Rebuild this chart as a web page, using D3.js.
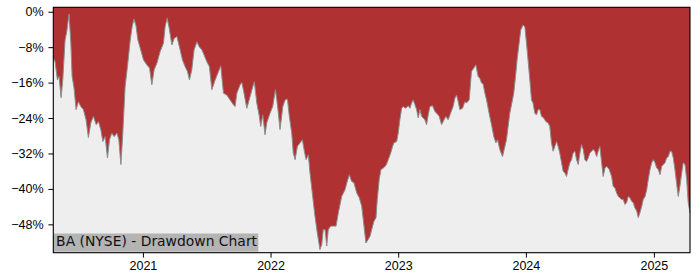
<!DOCTYPE html>
<html>
<head>
<meta charset="utf-8">
<script src="https://cdn.jsdelivr.net/npm/d3@7"></script>
<style>
  html, body { margin: 0; padding: 0; background: #ffffff; }
  svg { display: block; font-family: "DejaVu Sans", sans-serif; }
  .axis path, .axis line { stroke: #000; }
  .axis text { fill: #000; font-size: 12.5px; }
</style>
</head>
<body>
<svg id="chart" width="700" height="280"></svg>
<script>
/* BA drawdown chart: red area from the running high down to the drawdown line. */
(function () {
  "use strict";

  var title = "BA (NYSE) - Drawdown Chart";

  // Dates as decimal years.
  var dates = [
    2020.300, 2020.314, 2020.332, 2020.345, 2020.361, 2020.374, 2020.392, 2020.405, 2020.423, 2020.437,
    2020.447, 2020.462, 2020.478, 2020.496, 2020.515, 2020.535, 2020.556, 2020.574, 2020.593, 2020.613,
    2020.635, 2020.653, 2020.671, 2020.687, 2020.705, 2020.723, 2020.739, 2020.757, 2020.775, 2020.797,
    2020.812, 2020.828, 2020.843, 2020.861, 2020.879, 2020.901, 2020.916, 2020.930, 2020.945, 2020.961,
    2020.979, 2021.005, 2021.031, 2021.052, 2021.070, 2021.088, 2021.110, 2021.135, 2021.161, 2021.174,
    2021.190, 2021.206, 2021.227, 2021.245, 2021.266, 2021.286, 2021.310, 2021.331, 2021.349, 2021.365,
    2021.383, 2021.401, 2021.423, 2021.441, 2021.462, 2021.480, 2021.501, 2021.521, 2021.540, 2021.566,
    2021.592, 2021.610, 2021.631, 2021.657, 2021.683, 2021.709, 2021.722, 2021.736, 2021.761, 2021.775,
    2021.787, 2021.814, 2021.840, 2021.861, 2021.873, 2021.892, 2021.912, 2021.923, 2021.939, 2021.957,
    2021.970, 2021.996, 2022.017, 2022.038, 2022.049, 2022.061, 2022.074, 2022.096, 2022.114, 2022.132,
    2022.147, 2022.166, 2022.178, 2022.192, 2022.210, 2022.231, 2022.249, 2022.265, 2022.278, 2022.296,
    2022.309, 2022.330, 2022.348, 2022.366, 2022.387, 2022.401, 2022.413, 2022.427, 2022.440, 2022.452,
    2022.471, 2022.492, 2022.513, 2022.531, 2022.557, 2022.583, 2022.601, 2022.617, 2022.635, 2022.653,
    2022.675, 2022.695, 2022.714, 2022.732, 2022.747, 2022.765, 2022.779, 2022.792, 2022.810, 2022.826,
    2022.836, 2022.851, 2022.865, 2022.883, 2022.904, 2022.922, 2022.941, 2022.956, 2022.966, 2022.988,
    2023.000, 2023.013, 2023.027, 2023.039, 2023.060, 2023.078, 2023.092, 2023.105, 2023.117, 2023.131,
    2023.144, 2023.157, 2023.170, 2023.183, 2023.196, 2023.209, 2023.222, 2023.235, 2023.248, 2023.269,
    2023.287, 2023.301, 2023.321, 2023.340, 2023.352, 2023.373, 2023.391, 2023.410, 2023.430, 2023.444,
    2023.457, 2023.470, 2023.483, 2023.504, 2023.522, 2023.535, 2023.556, 2023.574, 2023.592, 2023.608,
    2023.626, 2023.639, 2023.653, 2023.665, 2023.679, 2023.692, 2023.712, 2023.731, 2023.749, 2023.765,
    2023.778, 2023.796, 2023.817, 2023.830, 2023.848, 2023.861, 2023.874, 2023.895, 2023.905, 2023.919,
    2023.931, 2023.947, 2023.960, 2023.978, 2023.992, 2024.005, 2024.017, 2024.031, 2024.044, 2024.056,
    2024.070, 2024.083, 2024.096, 2024.109, 2024.122, 2024.140, 2024.156, 2024.174, 2024.187, 2024.200,
    2024.213, 2024.226, 2024.240, 2024.252, 2024.265, 2024.279, 2024.291, 2024.305, 2024.318, 2024.330,
    2024.344, 2024.357, 2024.369, 2024.383, 2024.396, 2024.409, 2024.422, 2024.435, 2024.448, 2024.461,
    2024.474, 2024.487, 2024.500, 2024.513, 2024.526, 2024.539, 2024.553, 2024.565, 2024.578, 2024.592,
    2024.604, 2024.618, 2024.631, 2024.651, 2024.670, 2024.682, 2024.696, 2024.709, 2024.722, 2024.735,
    2024.748, 2024.761, 2024.774, 2024.787, 2024.800, 2024.813, 2024.826, 2024.839, 2024.852, 2024.866,
    2024.878, 2024.891, 2024.905, 2024.917, 2024.931, 2024.944, 2024.956, 2024.970, 2024.983, 2024.996,
    2025.009, 2025.022, 2025.035, 2025.048, 2025.061, 2025.074, 2025.087, 2025.100, 2025.113, 2025.126,
    2025.139, 2025.152, 2025.165, 2025.179, 2025.191, 2025.204, 2025.218, 2025.230, 2025.244, 2025.257,
    2025.269, 2025.283
  ];

  // Drawdown from the running peak, in percent.
  var drawdown = [
    -10.4, -11.3, -15.4, -14.6, -19.4, -15.4, -6.4, -4.5, -0.5, -7.0,
    -14.6, -17.2, -22.1, -20.3, -21.4, -22.1, -24.4, -28.4, -25.1, -23.6,
    -25.5, -24.8, -26.6, -29.3, -28.2, -33.0, -28.9, -27.4, -28.2, -27.4,
    -28.9, -34.5, -27.4, -16.9, -12.4, -6.4, -3.4, -1.7, -3.0, -6.4,
    -8.2, -10.9, -12.0, -12.7, -16.5, -13.1, -11.6, -9.0, -7.1, -3.4,
    -1.4, -3.7, -7.5, -6.0, -5.6, -7.9, -10.9, -12.4, -13.5, -15.4,
    -13.1, -8.6, -6.8, -7.9, -8.6, -9.8, -11.3, -12.4, -17.6, -15.4,
    -13.5, -12.2, -18.4, -18.8, -19.9, -21.0, -21.4, -18.4, -16.5, -16.0,
    -17.6, -21.8, -19.1, -16.9, -15.8, -20.6, -23.6, -25.9, -23.3, -27.8,
    -25.1, -22.9, -21.4, -17.6, -19.9, -22.9, -26.6, -21.4, -19.9, -19.7,
    -23.6, -27.4, -31.9, -33.4, -30.4, -29.6, -28.9, -31.5, -33.4, -32.3,
    -36.4, -41.7, -46.2, -49.9, -53.7, -52.5, -49.2, -49.2, -52.9, -49.2,
    -48.4, -48.4, -48.4, -45.4, -41.7, -40.2, -38.3, -36.8, -38.3, -38.6,
    -40.9, -42.0, -43.9, -48.4, -52.2, -51.4, -50.7, -49.2, -47.3, -46.5,
    -42.4, -37.9, -35.6, -35.3, -34.7, -33.4, -31.9, -30.4, -29.6, -29.3,
    -27.4, -24.4, -21.8, -21.4, -21.8, -21.2, -21.8, -20.6, -19.9, -21.0,
    -22.1, -24.0, -22.1, -23.6, -24.0, -24.4, -25.5, -23.3, -21.4, -21.2,
    -22.5, -22.9, -23.6, -25.5, -24.8, -23.6, -24.4, -22.9, -21.4, -19.5,
    -18.8, -20.3, -22.1, -21.8, -20.3, -20.6, -19.9, -13.5, -12.7, -12.0,
    -14.6, -15.0, -16.1, -16.3, -18.4, -19.9, -22.9, -25.5, -28.2, -29.6,
    -28.9, -31.1, -32.7, -31.1, -28.9, -25.9, -22.9, -19.9, -18.4, -14.6,
    -10.9, -7.1, -4.1, -3.0, -3.4, -7.1, -10.9, -15.4, -19.9, -20.6,
    -22.9, -23.3, -22.1, -22.1, -23.6, -24.0, -24.8, -25.1, -25.9, -29.6,
    -31.5, -30.4, -29.3, -30.4, -31.9, -34.1, -36.0, -36.4, -37.2, -35.6,
    -34.1, -33.4, -31.9, -31.5, -33.4, -34.5, -31.9, -30.0, -31.1, -33.4,
    -33.8, -33.0, -31.9, -31.5, -31.1, -31.5, -32.7, -31.5, -30.4, -34.1,
    -37.2, -35.3, -34.9, -35.6, -37.2, -39.4, -39.8, -40.9, -41.7, -42.0,
    -42.4, -42.4, -43.5, -43.1, -41.7, -42.0, -42.8, -43.1, -44.3, -45.0,
    -46.5, -45.4, -43.9, -42.4, -41.7, -40.2, -37.9, -35.6, -34.1, -33.4,
    -34.1, -35.3, -35.6, -36.8, -34.9, -34.5, -34.1, -33.0, -32.7, -31.5,
    -31.5, -33.0, -35.6, -39.0, -41.7, -39.4, -36.4, -34.1, -34.5, -37.9,
    -43.1, -45.4
  ];

  var yTicks = [0, -8, -16, -24, -32, -40, -48];
  var yDomain = [-54.4, 1.0];

  var width = 700;
  var height = 280;
  var margin = { top: 7.3, right: 10, bottom: 27.3, left: 53.3 };
  var innerW = width - margin.left - margin.right;
  var innerH = height - margin.top - margin.bottom;

  function fromDecimalYear(t) {
    var year = Math.floor(t);
    var start = new Date(year, 0, 1);
    var end = new Date(year + 1, 0, 1);
    return new Date(start.getTime() + (t - year) * (end - start));
  }

  var points = dates.map(function (t, i) {
    return { date: fromDecimalYear(t), value: drawdown[i] };
  });

  var svg = d3.select("#chart");
  var g = svg.append("g").attr("transform", "translate(" + margin.left + "," + margin.top + ")");

  var x = d3
    .scaleTime()
    .domain(d3.extent(points, function (d) {
      return d.date;
    }))
    .range([0, innerW]);

  var y = d3.scaleLinear().domain(yDomain).range([innerH, 0]);

  g.append("rect")
    .attr("width", innerW)
    .attr("height", innerH)
    .attr("fill", "#eeeeee");

  var area = d3
    .area()
    .x(function (d) {
      return x(d.date);
    })
    .y0(y(yDomain[1]))
    .y1(function (d) {
      return y(d.value);
    });

  g.append("path")
    .datum(points)
    .attr("d", area)
    .attr("fill", "#b03131");

  var line = d3
    .line()
    .x(function (d) {
      return x(d.date);
    })
    .y(function (d) {
      return y(d.value);
    });

  g.append("path")
    .datum(points)
    .attr("d", line)
    .attr("fill", "none")
    .attr("stroke", "#8c8c8c")
    .attr("stroke-width", 1);

  // Title label in a grey box at the lower left corner.
  g.append("rect")
    .attr("x", 0)
    .attr("y", innerH - 19.2)
    .attr("width", 205)
    .attr("height", 18.2)
    .attr("fill", "#b4b4b4");

  g.append("text")
    .attr("x", 2.8)
    .attr("y", innerH - 6.9)
    .attr("font-size", "13.9px")
    .attr("fill", "#111")
    .text(title);

  var fmt = d3.format(".0f");

  g.append("g")
    .attr("class", "axis")
    .call(
      d3
        .axisLeft(y)
        .tickValues(yTicks)
        .tickSize(4.9)
        .tickPadding(4.9)
        .tickFormat(function (d) {
          return fmt(d) + "%";
        })
    )
    .call(function (sel) {
      sel.select(".domain").remove();
    });

  g.append("g")
    .attr("class", "axis")
    .attr("transform", "translate(0," + innerH + ")")
    .call(
      d3
        .axisBottom(x)
        .ticks(d3.timeYear.every(1))
        .tickSize(4.9)
        .tickPadding(3.5)
        .tickFormat(d3.timeFormat("%Y"))
    )
    .call(function (sel) {
      sel.select(".domain").remove();
    });

  // Frame round the plot area.
  g.append("rect")
    .attr("width", innerW)
    .attr("height", innerH)
    .attr("fill", "none")
    .attr("stroke", "#000")
    .attr("stroke-width", 1.1);
})();
</script>
</body>
</html>
